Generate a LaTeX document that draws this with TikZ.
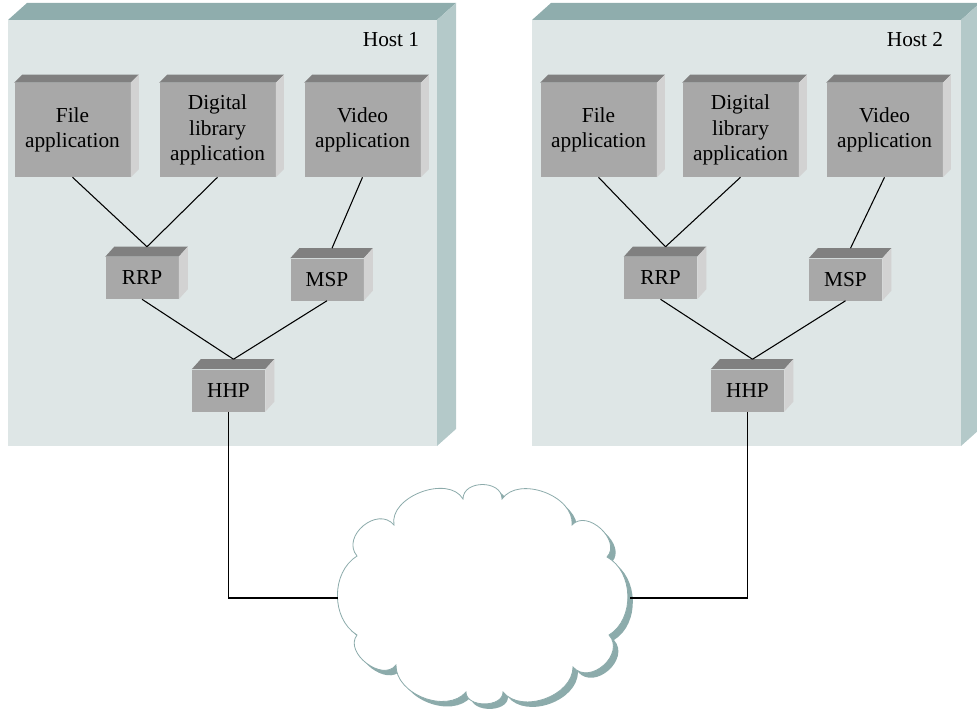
\documentclass[tikz,border=0pt]{standalone}
\usepackage{fontspec}
\setmainfont{Liberation Serif}
\usetikzlibrary{calc}
\definecolor{hostfront}{RGB}{222,230,230}
\definecolor{hosttop}{RGB}{143,173,173}
\definecolor{hostside}{RGB}{180,201,201}
\definecolor{boxfront}{RGB}{168,168,168}
\definecolor{boxtop}{RGB}{128,128,128}
\definecolor{boxside}{RGB}{210,210,210}
\definecolor{cloudline}{RGB}{140,171,171}
\newcommand\apptext{\fontsize{16}{19.3}\selectfont}
\newcommand\boxfaces[3]{%
  \fill[boxtop] (#1.north west) -- ++(#2,-#3) -- ($(#1.north east)+(#2,-#3)$) -- (#1.north east) -- cycle;
  \fill[boxside] (#1.north east) -- ++(#2,-#3) -- ($(#1.south east)+(#2,-#3)$) -- (#1.south east) -- cycle;}
\tikzset{
  appbox/.style={fill=boxfront, minimum width=116*0.75pt, minimum height=94*0.75pt, inner sep=0pt, align=center, font=\apptext},
  protobox/.style={fill=boxfront, minimum width=73*0.75pt, minimum height=42*0.75pt, inner sep=0pt, font=\apptext},
  link/.style={line width=0.8pt, black},
  hostlabel/.style={font=\apptext, inner sep=0pt},
  cloudshape/.style={line width=0.6pt}
}
\begin{document}
\begin{tikzpicture}[x=0.75pt, y=-0.75pt]
\useasboundingbox (0,0) rectangle (977,709);
% Host 1
\fill[hostfront] (8,20) rectangle (437,446);
\fill[hosttop] (8,20) -- (27,3) -- (456,3) -- (437,20) -- cycle;
\fill[hostside] (437,20) -- (456,3) -- (456,429) -- (437,446) -- cycle;
\node[hostlabel] (h1label) at (391,40) {Host 1};
% Host 2
\fill[hostfront] (532,20) rectangle (961,446);
\fill[hosttop] (532,20) -- (551,3) -- (980,3) -- (961,20) -- cycle;
\fill[hostside] (961,20) -- (980,3) -- (980,429) -- (961,446) -- cycle;
\node[hostlabel] (h2label) at (915,40) {Host 2};

% Host 1 boxes
\node[appbox] (file1) at (72.5,130) {File\\application};
\node[appbox] (dig1) at (217.5,130) {Digital\\library\\application};
\node[appbox] (vid1) at (362.5,130) {Video\\application};
\node[protobox] (rrp1) at (142,278) {RRP};
\node[protobox] (msp1) at (327,279.5) {MSP};
\node[protobox] (hhp1) at (228.5,390.5) {HHP};
% Host 2 boxes
\node[appbox] (file2) at (598.5,130) {File\\application};
\node[appbox] (dig2) at (740.5,130) {Digital\\library\\application};
\node[appbox] (vid2) at (884.5,130) {Video\\application};
\node[protobox] (rrp2) at (660.5,278) {RRP};
\node[protobox] (msp2) at (845.5,279.5) {MSP};
\node[protobox] (hhp2) at (747.5,390.5) {HHP};

\foreach \n in {file1,dig1,vid1,file2,dig2,vid2}{\boxfaces{\n}{8}{8}}
\foreach \n in {rrp1,msp1,hhp1,rrp2,msp2,hhp2}{\boxfaces{\n}{9}{10}}

% Connectors host 1
\draw[link] (file1.south) -- ($(rrp1.north)+(5,-10)$);
\draw[link] (dig1.south) -- ($(rrp1.north)+(5,-10)$);
\draw[link] (vid1.south) -- ($(msp1.north)+(5,-10)$);
\draw[link] (rrp1.south) -- ($(hhp1.north)+(5,-10)$);
\draw[link] (msp1.south) -- ($(hhp1.north)+(5,-10)$);
% Connectors host 2
\draw[link] (file2.south) -- ($(rrp2.north)+(5,-10)$);
\draw[link] (dig2.south) -- ($(rrp2.north)+(5,-10)$);
\draw[link] (vid2.south) -- ($(msp2.north)+(5,-10)$);
\draw[link] (rrp2.south) -- ($(hhp2.north)+(5,-10)$);
\draw[link] (msp2.south) -- ($(hhp2.north)+(5,-10)$);

% Cloud
\def\cloudpath{(357,556) to[bend left=90, looseness=1.35] (394,525)
  to[bend left=80] (463,499)
  to[bend left=90, looseness=1.27] (502,499)
  to[bend left=75] (572,525)
  to[bend left=90, looseness=1.2] (607,557)
  to[bend left=60] (609,635)
  to[bend left=90, looseness=1.35] (573,667)
  to[bend left=70] (503,692)
  to[bend left=90, looseness=1.1] (466,692)
  to[bend left=70] (396,665)
  to[bend left=90, looseness=1.15] (357,635)
  to[bend left=58] (357,556) -- cycle}
\begin{scope}[shift={(5,5)}]
\fill[cloudline] \cloudpath;
\end{scope}
\filldraw[cloudshape, fill=white, draw=cloudline] \cloudpath;
\coordinate (cl) at (338,598);
\coordinate (cr) at (630,598);
\draw[link] (hhp1.south) |- (cl);
\draw[link] (hhp2.south) |- (cr);
\end{tikzpicture}
\end{document}
